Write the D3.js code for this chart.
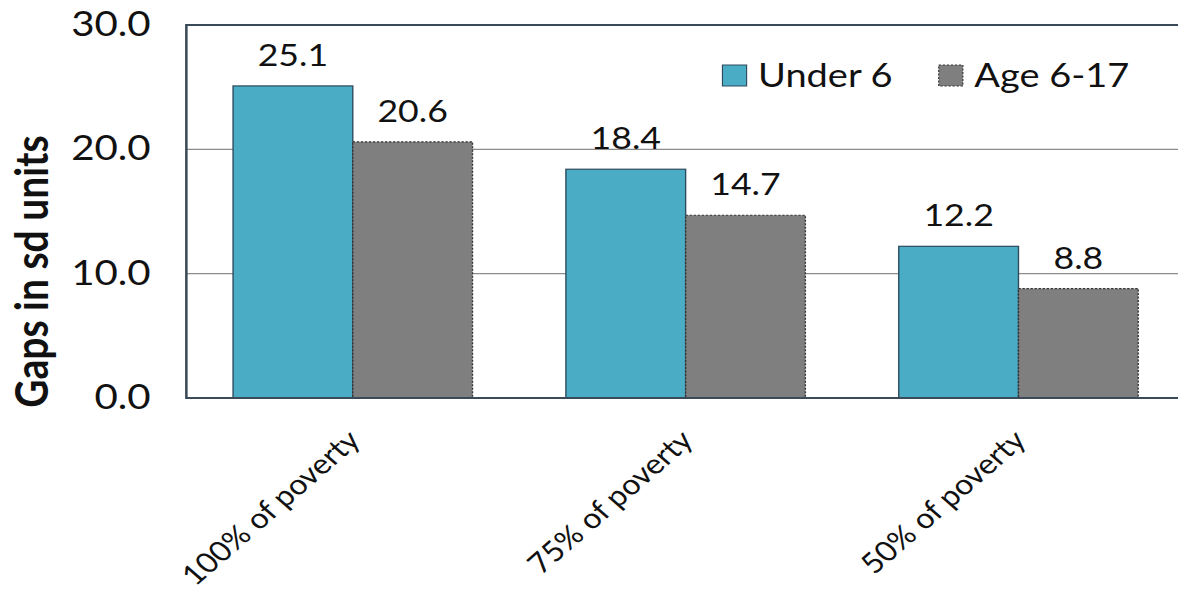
<!DOCTYPE html>
<html>
<head>
<meta charset="utf-8">
<script src="https://cdn.jsdelivr.net/npm/d3@7"></script>
<style>
  html, body { margin: 0; padding: 0; background: #fff; }
  svg { display: block; }
  text { font-family: Lato, "Open Sans", sans-serif; fill: #111; }
</style>
</head>
<body>
<div id="mainDiv"></div>
<script>
// Data
let categories = ["100% of poverty", "75% of poverty", "50% of poverty"];
let seriesNames = ["Under 6", "Age 6-17"];
let under6 = [25.1, 18.4, 12.2];
let age6to17 = [20.6, 14.7, 8.8];
let yTicks = [0, 10, 20, 30];

let seriesColors = ["#4bacc6", "#7f7f7f"];

// the picture looks stretched sideways, so draw in a narrower box and stretch it
let chartSize = {
  width: 1024,
  height: 599,
  margin: { top: 25, right: -6, bottom: 201, left: 162 }
};

let rows = categories.map((c, i) => ({ category: c, values: [under6[i], age6to17[i]] }));

const svg = d3.select("#mainDiv")
  .append("svg")
  .attr("width", 1178)
  .attr("height", 599)
  .attr("viewBox", [0, 0, chartSize.width, chartSize.height])
  .attr("preserveAspectRatio", "none");

let x0 = d3.scaleBand()
  .domain(categories)
  .range([chartSize.margin.left, chartSize.width - chartSize.margin.right])
  .padding(0);

let x1 = d3.scaleBand()
  .domain(d3.range(seriesNames.length))
  .range([0, x0.bandwidth()])
  .paddingInner(0)
  .paddingOuter(0.39);

let y = d3.scaleLinear()
  .domain([0, 30])
  .range([398, chartSize.margin.top]);

// gridlines
svg.append("g")
  .selectAll("line")
  .data(yTicks.filter(d => d > 0 && d < 30))
  .join("line")
  .attr("x1", chartSize.margin.left)
  .attr("x2", chartSize.width)
  .attr("y1", d => y(d))
  .attr("y2", d => y(d))
  .attr("stroke", "#8c8c8c")
  .attr("stroke-width", 1.3);

// y axis labels
let yAxis = g => g
  .attr("transform", `translate(${chartSize.margin.left},0)`)
  .call(d3.axisLeft(y).tickValues(yTicks).tickFormat(d3.format(".1f")).tickSize(0).tickPadding(31))
  .call(g => g.select(".domain").remove())
  .call(g => g.selectAll("text")
    .attr("font-family", "Lato, sans-serif")
    .attr("font-size", 35)
    .attr("dy", "0.3em")
    .attr("fill", "#111"));

svg.append("g").call(yAxis);

// bars
let groups = svg.append("g")
  .selectAll("g")
  .data(rows)
  .join("g")
  .attr("transform", d => `translate(${x0(d.category)},0)`);

groups.selectAll("rect")
  .data(d => d.values.map((v, i) => ({ v, i })))
  .join("rect")
  .attr("x", d => x1(d.i))
  .attr("y", d => y(d.v))
  .attr("width", x1.bandwidth())
  .attr("height", d => y(0) - y(d.v))
  .attr("fill", d => seriesColors[d.i])
  .attr("stroke", d => d.i == 0 ? "#2d4b5c" : "#333")
  .attr("stroke-width", 1.2)
  .attr("stroke-dasharray", d => d.i == 0 ? null : "2,1.5");

groups.selectAll("text")
  .data(d => d.values.map((v, i) => ({ v, i })))
  .join("text")
  .attr("x", d => x1(d.i) + x1.bandwidth() / 2)
  .attr("y", d => y(d.v) - 20)
  .attr("text-anchor", "middle")
  .attr("font-size", 31)
  .text(d => d3.format(".1f")(d.v));

// plot frame: left, top and bottom (right side is cut off)
svg.append("path")
  .attr("d", `M${chartSize.width},${y(30)}H${chartSize.margin.left}V${y(0)}H${chartSize.width}`)
  .attr("fill", "none")
  .attr("stroke", "#3b4a58")
  .attr("stroke-width", 2.2);

// x labels, rotated
svg.append("g")
  .selectAll("text")
  .data(categories)
  .join("text")
  .attr("transform", d => `translate(${x0(d) + x0.bandwidth() / 2 + 8},${y(0) + 44}) rotate(-45)`)
  .attr("text-anchor", "end")
  .attr("font-size", 28)
  .text(d => d);

// y axis title
svg.append("text")
  .attr("transform", `translate(42,${(y(0) + y(30)) / 2 + 60}) rotate(-90)`)
  .attr("text-anchor", "middle")
  .attr("font-size", 39)
  .attr("font-weight", "bold")
  .text("Gaps in sd units");

// legend
let legendX = [628, 816];
let legend = svg.append("g")
  .selectAll("g")
  .data(seriesNames)
  .join("g")
  .attr("transform", (d, i) => `translate(${legendX[i]},65)`);

legend.append("rect")
  .attr("width", 21)
  .attr("height", 21)
  .attr("fill", (d, i) => seriesColors[i])
  .attr("stroke", (d, i) => i == 0 ? "#2d4b5c" : "#333")
  .attr("stroke-width", 1)
  .attr("stroke-dasharray", (d, i) => i == 0 ? null : "2,1.5");

legend.append("text")
  .attr("x", 31)
  .attr("y", 22)
  .attr("font-size", 33)
  .text(d => d);
</script>
</body>
</html>
